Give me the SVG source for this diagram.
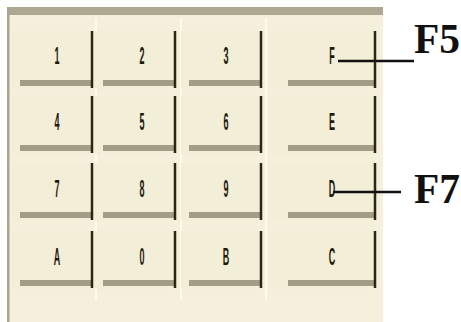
<svg xmlns="http://www.w3.org/2000/svg" width="461" height="322" viewBox="0 0 461 322">
<style>
.bg{fill:#f5f0dc}
.band{fill:#aea893}
.edge{stroke:#2b2717;stroke-width:2.5}
.bot{fill:#a39d88}
.hl{stroke:#fffbea;stroke-width:2}
.lbl{font-family:"Liberation Sans",Arial,sans-serif;font-weight:bold;font-size:15px;fill:#1e1a0c;text-anchor:middle}
.call{font-family:"Liberation Serif","Times New Roman",serif;font-weight:bold;font-size:42px;fill:#111}
.lead{stroke:#111;stroke-width:2.5}
</style>
<defs>
<g id="key">
<rect x="0" y="0" width="80" height="58" fill="#f3eed8"/>
<rect x="8" y="49" width="72" height="6" class="bot"/>
<line x1="80" y1="0" x2="80" y2="57" class="edge"/>
</g>
<g id="keyw">
<rect x="0" y="0" width="105" height="58" fill="#f3eed8"/>
<rect x="18" y="49" width="87" height="6" class="bot"/>
<line x1="105" y1="0" x2="105" y2="57" class="edge"/>
</g>
</defs>
<rect width="461" height="322" fill="#ffffff"/>
<rect x="7" y="7" width="376" height="315" class="bg"/>
<rect x="7" y="7" width="376" height="8" class="band"/>
<rect x="7" y="7" width="2.5" height="315" fill="#a9a38e"/>
<g id="grid-highlights">
<line x1="96" y1="18" x2="96" y2="300" class="hl"/>
<line x1="181" y1="18" x2="181" y2="300" class="hl"/>
<line x1="266" y1="18" x2="266" y2="300" class="hl"/>
</g>
<g id="key-1"><use href="#key" x="12" y="31"/><text class="lbl" transform="translate(57,64) scale(0.6,1.6)">1</text></g>
<g id="key-2"><use href="#key" x="95" y="31"/><text class="lbl" transform="translate(142,64) scale(0.6,1.6)">2</text></g>
<g id="key-3"><use href="#key" x="181" y="31"/><text class="lbl" transform="translate(226,64) scale(0.6,1.6)">3</text></g>
<g id="key-F"><use href="#keyw" x="270" y="31"/><text class="lbl" transform="translate(332,64) scale(0.6,1.6)">F</text></g>
<g id="key-4"><use href="#key" x="12" y="96"/><text class="lbl" transform="translate(57,130) scale(0.6,1.6)">4</text></g>
<g id="key-5"><use href="#key" x="95" y="96"/><text class="lbl" transform="translate(142,130) scale(0.6,1.6)">5</text></g>
<g id="key-6"><use href="#key" x="181" y="96"/><text class="lbl" transform="translate(226,130) scale(0.6,1.6)">6</text></g>
<g id="key-E"><use href="#keyw" x="270" y="96"/><text class="lbl" transform="translate(332,130) scale(0.6,1.6)">E</text></g>
<g id="key-7"><use href="#key" x="12" y="163"/><text class="lbl" transform="translate(57,197) scale(0.6,1.6)">7</text></g>
<g id="key-8"><use href="#key" x="95" y="163"/><text class="lbl" transform="translate(142,197) scale(0.6,1.6)">8</text></g>
<g id="key-9"><use href="#key" x="181" y="163"/><text class="lbl" transform="translate(226,197) scale(0.6,1.6)">9</text></g>
<g id="key-D"><use href="#keyw" x="270" y="163"/><text class="lbl" transform="translate(332,197) scale(0.6,1.6)">D</text></g>
<g id="key-A"><use href="#key" x="12" y="231"/><text class="lbl" transform="translate(57,265) scale(0.6,1.6)">A</text></g>
<g id="key-0"><use href="#key" x="95" y="231"/><text class="lbl" transform="translate(142,265) scale(0.6,1.6)">0</text></g>
<g id="key-B"><use href="#key" x="181" y="231"/><text class="lbl" transform="translate(226,265) scale(0.6,1.6)">B</text></g>
<g id="key-C"><use href="#keyw" x="270" y="231"/><text class="lbl" transform="translate(332,265) scale(0.6,1.6)">C</text></g>
<g id="connectors">
<line x1="338" y1="61" x2="414" y2="61" class="lead"/>
<line x1="333" y1="192" x2="401" y2="192" class="lead"/>
</g>
<g id="callout-F5"><text class="call" x="414" y="53" textLength="46" lengthAdjust="spacingAndGlyphs">F5</text></g>
<g id="callout-F7"><text class="call" x="414" y="203" textLength="46" lengthAdjust="spacingAndGlyphs">F7</text></g>
</svg>
